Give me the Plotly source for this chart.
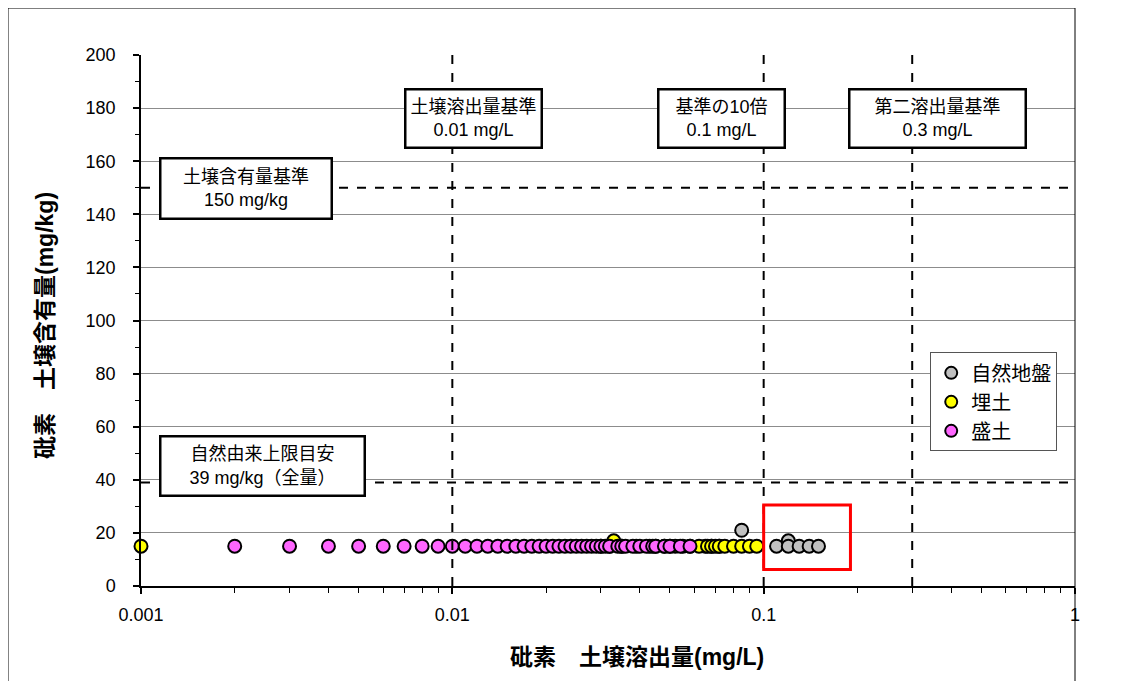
import plotly.graph_objects as go

# 砒素 溶出量 (mg/L) と 含有量 (mg/kg)
natural_x = [0.065, 0.068, 0.072, 0.085, 0.11, 0.12, 0.12, 0.13, 0.14, 0.15]
natural_y = [15, 15, 15, 21, 15, 17, 15, 15, 15, 15]

fill_x = [0.001, 0.030, 0.032, 0.033, 0.035, 0.039, 0.043, 0.045, 0.048, 0.050,
          0.052, 0.055, 0.058, 0.062, 0.066, 0.068, 0.070, 0.072, 0.075, 0.080,
          0.085, 0.090, 0.095]
fill_y = [15, 15, 15, 17, 15, 15, 15, 15, 15, 15,
          15, 15, 15, 15, 15, 15, 15, 15, 15, 15,
          15, 15, 15]

bank_x = [0.002, 0.003, 0.004, 0.005, 0.006, 0.007, 0.008, 0.009, 0.010,
          0.011, 0.012, 0.013, 0.014, 0.015, 0.016, 0.017, 0.018, 0.019, 0.020,
          0.021, 0.022, 0.023, 0.024, 0.025, 0.026, 0.027, 0.028, 0.029, 0.030,
          0.031, 0.032, 0.034, 0.035, 0.036, 0.038, 0.040, 0.042, 0.044, 0.045,
          0.048, 0.050, 0.054, 0.058]
bank_y = [15] * len(bank_x)

# 基準値
elution_limits = [0.01, 0.1, 0.3]
content_limits = [150, 39]

x_major = [0.001, 0.01, 0.1, 1]
x_labels = ["0.001", "0.01", "0.1", "1"]
x_minor = [m * d for d in (0.001, 0.01, 0.1) for m in range(2, 10)]

FONT = "Liberation Sans, Arial, Noto Sans CJK JP, sans-serif"

fig = go.Figure()

series = [
    ("自然地盤", natural_x, natural_y, "#C0C0C0"),
    ("埋土", fill_x, fill_y, "#FFFF00"),
    ("盛土", bank_x, bank_y, "#FF66FF"),
]
for name, xs, ys, color in series:
    fig.add_trace(go.Scatter(
        x=xs, y=ys, mode="markers", name=name,
        marker=dict(size=13, color=color, line=dict(color="black", width=2)),
        cliponaxis=False,
    ))

for v in elution_limits:
    fig.add_shape(type="line", xref="x", yref="paper", x0=v, x1=v, y0=0, y1=1,
                  line=dict(color="black", width=2, dash="dash"))
for v in content_limits:
    fig.add_shape(type="line", xref="paper", yref="y", x0=0, x1=1, y0=v, y1=v,
                  line=dict(color="black", width=2, dash="dash"))

# 赤枠
fig.add_shape(type="rect", xref="x", yref="y", x0=0.1, x1=0.19, y0=6.2, y1=30.5,
              line=dict(color="#FF0000", width=3))

# 外枠
fig.add_shape(type="rect", xref="paper", yref="paper", x0=-0.1424, x1=1.0,
              y0=-0.25, y1=1.0885, line=dict(color="black", width=1))

boxes = [
    ("土壌含有量基準<br>150 mg/kg", 0.1124, 0.7495, 165, 54),
    ("自然由来上限目安<br>39 mg/kg（全量）", 0.1306, 0.226, 198, 53),
    ("土壌溶出量基準<br>0.01 mg/L", 0.3565, 0.8795, 130, 52),
    ("基準の10倍<br>0.1 mg/L", 0.621, 0.8795, 120, 52),
    ("第二溶出量基準<br>0.3 mg/L", 0.8533, 0.8795, 170, 52),
]
for text, x, y, w, h in boxes:
    fig.add_annotation(text=text, xref="paper", yref="paper", x=x, y=y,
                       xanchor="center", yanchor="middle", showarrow=False,
                       width=w, height=h, bgcolor="white", bordercolor="black",
                       borderwidth=2.5, borderpad=2,
                       font=dict(size=18, color="black", family=FONT))

fig.add_annotation(text="<b>砒素　土壌溶出量(mg/L)</b>", xref="paper", yref="paper",
                   x=0.531, y=-0.134, xanchor="center", yanchor="middle",
                   showarrow=False,
                   font=dict(size=23, color="black", family=FONT))
fig.add_annotation(text="<b>砒素　土壌含有量(mg/kg)</b>", xref="paper", yref="paper",
                   x=-0.1028, y=0.4915, xanchor="center", yanchor="middle",
                   showarrow=False, textangle=-90,
                   font=dict(size=23, color="black", family=FONT))

fig.update_xaxes(
    type="log", range=[-3, 0],
    tickvals=x_major, ticktext=x_labels,
    ticks="outside", ticklen=6, tickwidth=1.5, tickcolor="black",
    minor=dict(tickvals=x_minor, ticks="outside", ticklen=5, tickwidth=1,
               tickcolor="black", showgrid=False),
    showline=True, linecolor="black", linewidth=1.5,
    showgrid=False, zeroline=False, ticklabelstandoff=6,
    tickfont=dict(size=18, color="black", family=FONT),
)
fig.update_yaxes(
    range=[0, 200], dtick=20,
    ticks="outside", ticklen=6, tickwidth=1.5, tickcolor="black",
    minor=dict(dtick=10, ticks="outside", ticklen=4, tickwidth=1,
               tickcolor="black", showgrid=False),
    showline=True, linecolor="black", linewidth=1.5,
    showgrid=True, gridcolor="#8C8C8C", gridwidth=1, zeroline=False,
    ticklabelstandoff=14,
    tickfont=dict(size=18, color="black", family=FONT),
)

fig.update_layout(
    width=1121, height=673,
    margin=dict(l=133, r=54, t=47, b=95),
    paper_bgcolor="white", plot_bgcolor="white",
    showlegend=True,
    legend=dict(x=0.845, y=0.44, xanchor="left", yanchor="top",
                bgcolor="white", bordercolor="#555555", borderwidth=1,
                font=dict(size=20, color="black", family=FONT),
                itemsizing="constant", itemwidth=30, tracegroupgap=0),
)

fig.write_html("out.html")
